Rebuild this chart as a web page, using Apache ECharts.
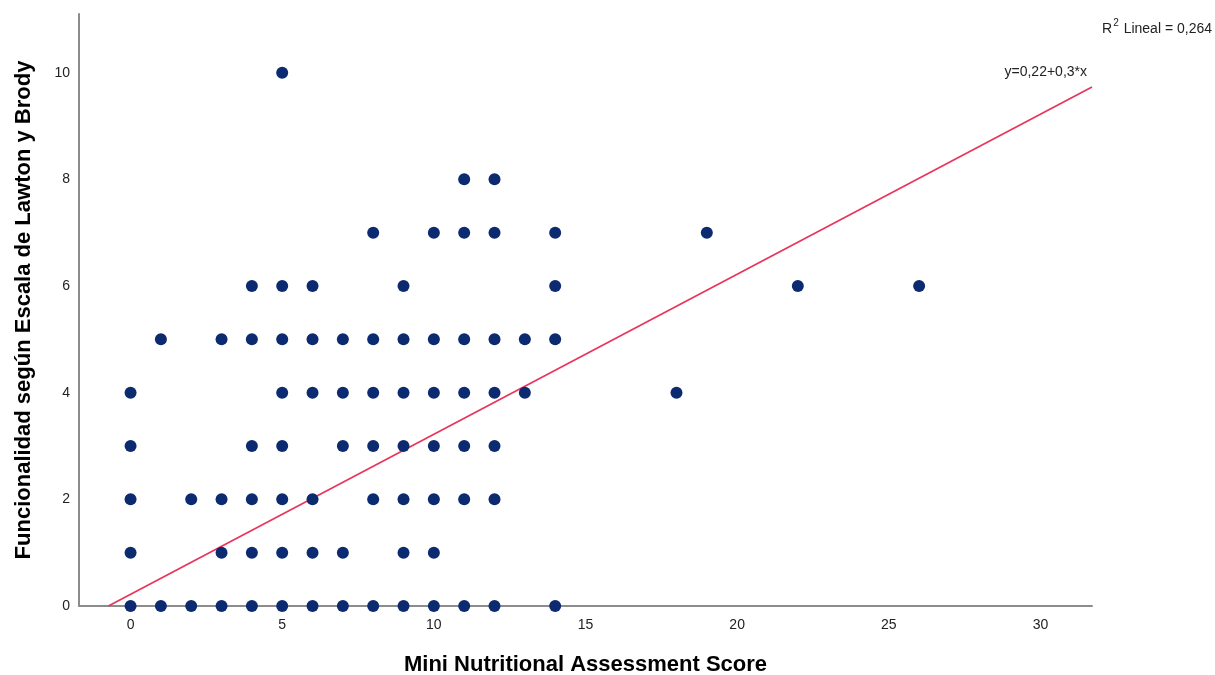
<!DOCTYPE html>
<html>
<head>
<meta charset="utf-8">
<script src="https://cdn.jsdelivr.net/npm/echarts@6/dist/echarts.min.js"></script>
<style>
  html, body { margin: 0; padding: 0; background: #fff; }
  #chart { width: 1215px; height: 675px; }
</style>
</head>
<body>
<div id="chart"></div>
<script>
// Observed points, grouped by Lawton y Brody score (y)
const rowY10 = [5];
const rowY8 = [11, 12];
const rowY7 = [8, 10, 11, 12, 14, 19];
const rowY6 = [4, 5, 6, 9, 14, 22, 26];
const rowY5 = [1, 3, 4, 5, 6, 7, 8, 9, 10, 11, 12, 13, 14];
const rowY4 = [0, 5, 6, 7, 8, 9, 10, 11, 12, 13, 18];
const rowY3 = [0, 4, 5, 7, 8, 9, 10, 11, 12];
const rowY2 = [0, 2, 3, 4, 5, 6, 8, 9, 10, 11, 12];
const rowY1 = [0, 3, 4, 5, 6, 7, 9, 10];
const rowY0 = [0, 1, 2, 3, 4, 5, 6, 7, 8, 9, 10, 11, 12, 14];

// Fit line endpoints as drawn (y = 0,22 + 0,3*x)
const fitLine = [[-0.73, 0], [31.7, 9.73]];

const xTicks = [0, 5, 10, 15, 20, 25, 30];
const yTicks = [0, 2, 4, 6, 8, 10];

const rows = [
    [10, rowY10], [8, rowY8], [7, rowY7], [6, rowY6], [5, rowY5],
    [4, rowY4], [3, rowY3], [2, rowY2], [1, rowY1], [0, rowY0]
];
const points = [];
rows.forEach(([y, xs]) => xs.forEach(x => points.push([x, y])));

const chart = echarts.init(document.getElementById('chart'));
const font = 'Liberation Sans, Arial, sans-serif';

chart.setOption({
    animation: false,
    grid: { left: 79, right: 123, top: 14, bottom: 69, outerBoundsMode: 'none', containLabel: false },
    xAxis: {
        type: 'value',
        min: -1.7,
        max: 31.7,
        name: 'Mini Nutritional Assessment Score',
        nameLocation: 'middle',
        nameGap: 48,
        nameTextStyle: { fontFamily: font, fontSize: 22, fontWeight: 'bold', color: '#000' },
        axisLine: { show: true, onZero: false, lineStyle: { color: '#8c8c8c', width: 2 } },
        axisTick: { show: false },
        splitLine: { show: false },
        axisLabel: { customValues: xTicks, fontFamily: font, fontSize: 14, color: '#222', margin: 12 }
    },
    yAxis: {
        type: 'value',
        min: 0,
        max: 11.1,
        name: 'Funcionalidad según Escala de Lawton y Brody',
        nameLocation: 'middle',
        nameGap: 44,
        nameRotate: 90,
        nameTextStyle: { fontFamily: font, fontSize: 22, fontWeight: 'bold', color: '#000' },
        axisLine: { show: true, onZero: false, lineStyle: { color: '#8c8c8c', width: 2 } },
        axisTick: { show: false },
        splitLine: { show: false },
        axisLabel: { customValues: yTicks, fontFamily: font, fontSize: 14, color: '#222', margin: 9 }
    },
    series: [
        {
            type: 'line',
            data: fitLine,
            symbol: 'none',
            lineStyle: { color: '#e8365d', width: 1.8 },
            z: 3
        },
        {
            type: 'scatter',
            data: points,
            symbolSize: 12,
            itemStyle: { color: '#0b2a70', opacity: 1 },
            z: 4
        }
    ],
    graphic: [
        {
            type: 'text',
            right: 3,
            top: 18,
            style: {
                text: '{t|R}{s|2}{t| Lineal = 0,264}',
                rich: {
                    t: { fontFamily: font, fontSize: 14, fill: '#222', verticalAlign: 'bottom' },
                    s: { fontFamily: font, fontSize: 10, fill: '#222', verticalAlign: 'top', padding: [0, 1, 8, 1] }
                }
            }
        },
        {
            type: 'text',
            right: 128,
            top: 65,
            style: { text: 'y=0,22+0,3*x', fontFamily: font, fontSize: 14, fill: '#222' }
        }
    ]
});
</script>
</body>
</html>
